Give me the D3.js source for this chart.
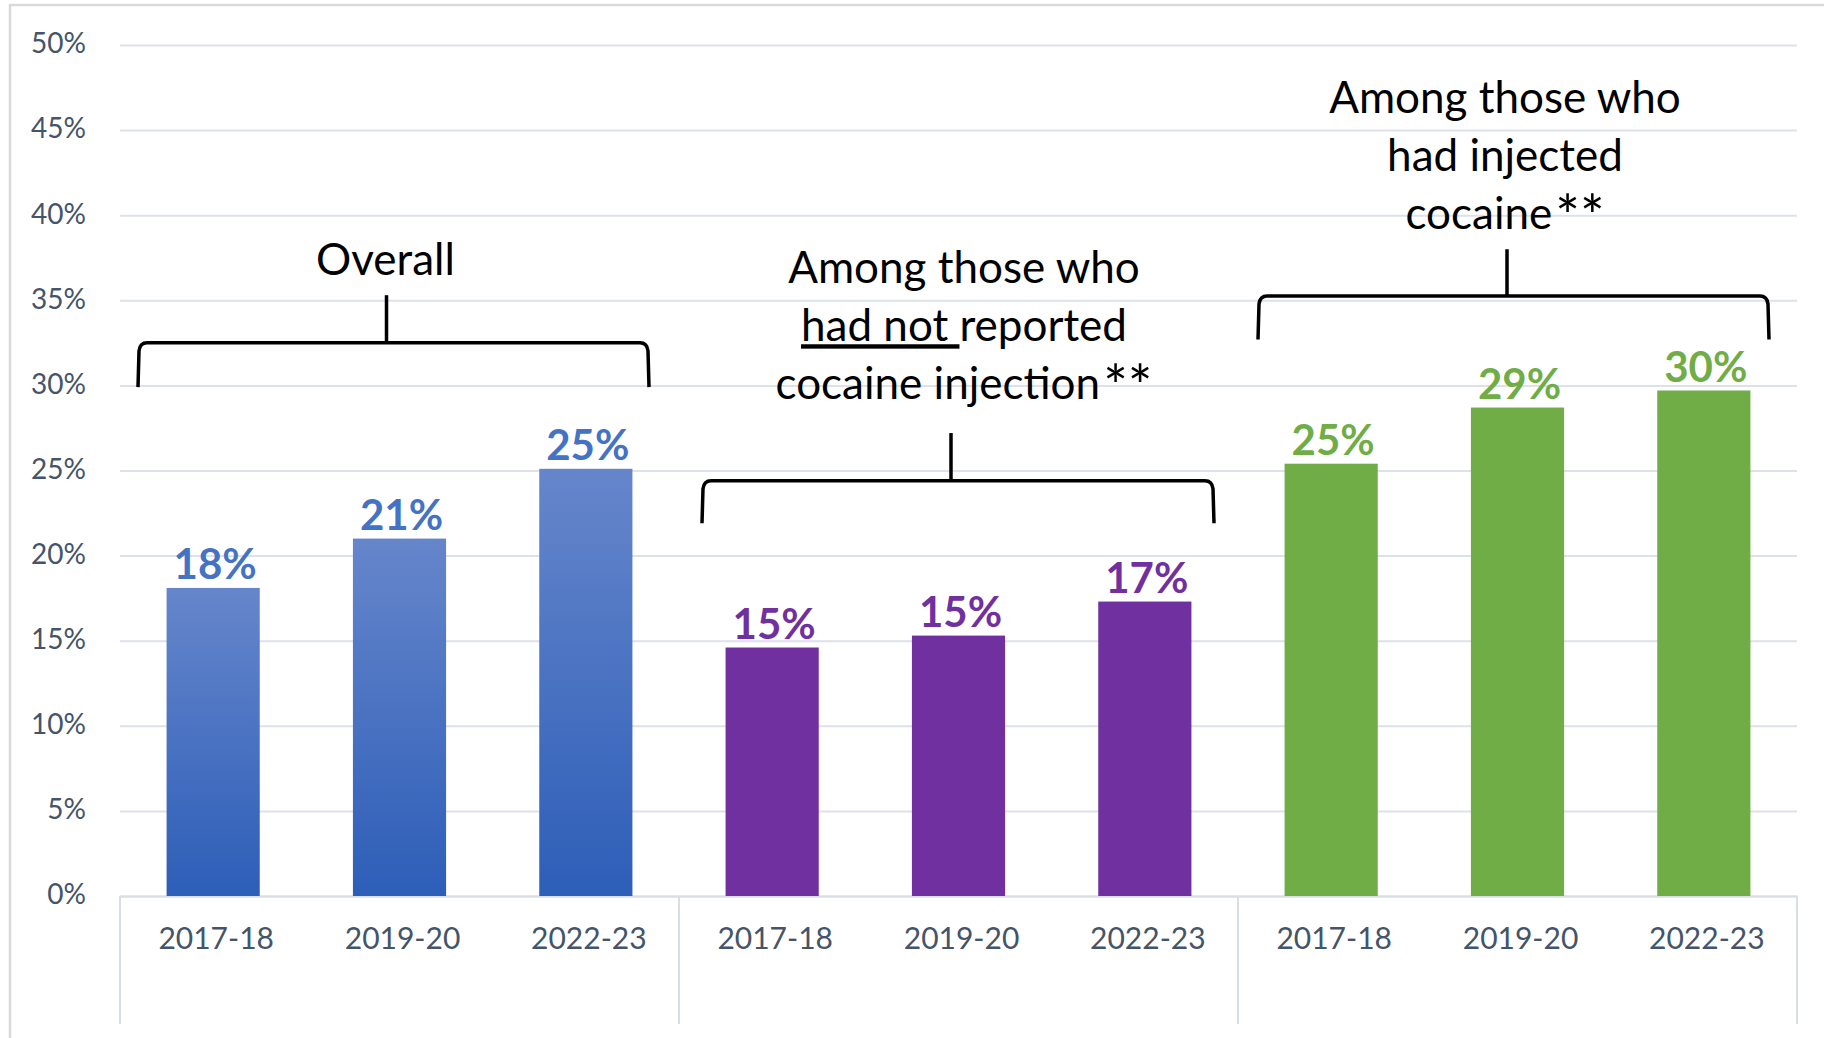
<!DOCTYPE html>
<meta charset="utf-8">

<!-- Load d3.js -->
<script src="https://d3js.org/d3.v7.min.js"></script>

<style>
  body { margin: 0; background: #fff; }
  text { font-family: Lato, "Open Sans", sans-serif; }
</style>

<div id="my_dataviz"></div>

<script>

  // values (percent)
  var years = ["2017-18", "2019-20", "2022-23"];
  var groupNames = ["Overall", "Not reported injection", "Injected"];
  var overall = [18.1, 21.0, 25.1];
  var notInjected = [14.6, 15.3, 17.3];
  var injected = [25.4, 28.7, 29.7];
  var yTicks = [0, 5, 10, 15, 20, 25, 30, 35, 40, 45, 50];

  // annotation texts, one list of lines per group (u = underlined, s = star)
  var noteLines = [
    [[{ t: "Overall" }]],
    [[{ t: "Among those who" }],
     [{ t: "had not ", u: true }, { t: "reported" }],
     [{ t: "cocaine injection" }, { t: "**", s: true }]],
    [[{ t: "Among those who" }],
     [{ t: "had injected" }],
     [{ t: "cocaine" }, { t: "**", s: true }]]
  ];

  // set the dimensions and margins of the graph
  var margin = { top: 45, right: 27, bottom: 142, left: 120 },
    width = 1824 - margin.left - margin.right,
    height = 1038 - margin.top - margin.bottom;

  var svgRoot = d3.select("#my_dataviz")
    .append("svg")
    .attr("width", 1824)
    .attr("height", 1038);

  // light outer frame of the chart area
  svgRoot.append("rect")
    .attr("x", 10)
    .attr("y", 5)
    .attr("width", 1900)
    .attr("height", 1200)
    .style("fill", "none")
    .style("stroke", "#d9d9d9")
    .style("stroke-width", 2.5);

  var defs = svgRoot.append("defs");
  var grad = defs.append("linearGradient")
    .attr("id", "blueGrad")
    .attr("x1", 0).attr("y1", 0)
    .attr("x2", 0).attr("y2", 1);
  grad.append("stop").attr("offset", "0%").attr("stop-color", "#6686cb");
  grad.append("stop").attr("offset", "100%").attr("stop-color", "#2d5eb8");

  var svg = svgRoot.append("g")
    .attr("transform", "translate(" + margin.left + "," + margin.top + ")");

  // build rows
  var series = [overall, notInjected, injected];
  var fills = ["url(#blueGrad)", "#7030a0", "#70ad47"];
  var labelColors = ["#4472c4", "#7030a0", "#70ad47"];
  var data = [];
  series.forEach(function (vals, g) {
    vals.forEach(function (v, i) {
      data.push({ key: g + "|" + years[i], group: g, year: years[i], value: v });
    });
  });

  // X scale
  var x = d3.scaleBand()
    .domain(data.map(function (d) { return d.key; }))
    .range([0, width])
    .paddingInner(0.5)
    .paddingOuter(0.25);

  // Y scale
  var y = d3.scaleLinear()
    .domain([0, 50])
    .range([height, 0]);

  // gridlines + y labels
  var yAxis = svg.append("g")
    .call(d3.axisLeft(y)
      .tickValues(yTicks)
      .tickFormat(function (d) { return d + "%"; })
      .tickSize(-width)
      .tickPadding(34));
  yAxis.select(".domain").remove();
  yAxis.selectAll(".tick line")
    .attr("stroke", "#dde1e8")
    .attr("stroke-width", 2);
  yAxis.selectAll(".tick text")
    .attr("fill", "#44546a")
    .style("font-size", "28px")
    .attr("dy", "0.28em");

  // x labels
  var xAxis = svg.append("g")
    .attr("transform", "translate(0," + height + ")")
    .call(d3.axisBottom(x)
      .tickSize(0)
      .tickPadding(32)
      .tickFormat(function (k) { return k.split("|")[1]; }));
  xAxis.select(".domain")
    .attr("stroke", "#d9dde4")
    .attr("stroke-width", 2);
  xAxis.selectAll(".tick text")
    .attr("fill", "#44546a")
    .attr("dx", 3)
    .style("font-size", "30px");

  // group separators below the axis
  var step = x.step();
  var groupEdges = [0, 1, 2, 3].map(function (k) { return k * 3 * step; });
  svg.append("g")
    .selectAll("line")
    .data(groupEdges)
    .enter()
    .append("line")
    .attr("x1", function (d) { return d; })
    .attr("x2", function (d) { return d; })
    .attr("y1", height)
    .attr("y2", height + 128)
    .attr("stroke", "#d9dde4")
    .attr("stroke-width", 2);

  // bars
  svg.append("g")
    .selectAll("rect")
    .data(data)
    .enter()
    .append("rect")
    .attr("x", function (d) { return x(d.key); })
    .attr("y", function (d) { return y(d.value); })
    .attr("width", x.bandwidth())
    .attr("height", function (d) { return height - y(d.value); })
    .style("fill", function (d) { return fills[d.group]; });

  // value labels
  svg.append("g")
    .selectAll("text")
    .data(data)
    .enter()
    .append("text")
    .attr("x", function (d) { return x(d.key) + x.bandwidth() / 2 + 2; })
    .attr("y", function (d) { return y(d.value) - 9; })
    .attr("text-anchor", "middle")
    .style("font-size", "42px")
    .style("font-weight", "bold")
    .style("fill", function (d) { return labelColors[d.group]; })
    .text(function (d) { return Math.round(d.value) + "%"; });

  // brackets and their captions (layout in chart units)
  var notes = [
    { g: 0, left: 19, right: 31, stemDx: -13, textDx: -14, top: 32.5, ends: 29.9, stem: 35.3, text: 36.5 },
    { g: 1, left: 24, right: 25, stemDx: -7.5, textDx: 5.5, top: 24.4, ends: 21.9, stem: 27.2, text: 36.0 },
    { g: 2, left: 21, right: 29, stemDx: -10.5, textDx: -12.5, top: 35.25, ends: 32.7, stem: 38.0, text: 46.0 }
  ];

  notes.forEach(function (n) {
    var g0 = groupEdges[n.g], g1 = groupEdges[n.g + 1];
    var mid = (g0 + g1) / 2;
    var lx = g0 + n.left, rx = g1 - n.right;
    var ty = y(n.top), ey = y(n.ends);

    svg.append("path")
      .attr("d", "M" + (lx - 1) + "," + ey +
        "L" + lx + "," + (ty + 8) +
        "Q" + (lx + 1) + "," + ty + " " + (lx + 8) + "," + ty +
        "L" + (rx - 8) + "," + ty +
        "Q" + (rx - 1) + "," + ty + " " + rx + "," + (ty + 8) +
        "L" + (rx + 1) + "," + ey)
      .style("fill", "none")
      .style("stroke", "#000")
      .style("stroke-width", 3.5);

    svg.append("line")
      .attr("x1", mid + n.stemDx)
      .attr("x2", mid + n.stemDx)
      .attr("y1", y(n.stem))
      .attr("y2", ty)
      .style("stroke", "#000")
      .style("stroke-width", 3.5);

    var txt = svg.append("text")
      .attr("text-anchor", "middle")
      .style("font-size", "44px")
      .style("fill", "#000");
    noteLines[n.g].forEach(function (parts, i) {
      var line = txt.append("tspan")
        .attr("x", mid + n.textDx)
        .attr("y", y(n.text) + i * 58);
      parts.forEach(function (p) {
        var sp = line.append("tspan")
          .style("text-decoration", p.u ? "underline" : null)
          .text(p.t);
        if (p.s) {
          sp.style("font-size", "58px")
            .attr("dy", 8)
            .attr("dx", 3);
        }
      });
    });
  });

</script>
